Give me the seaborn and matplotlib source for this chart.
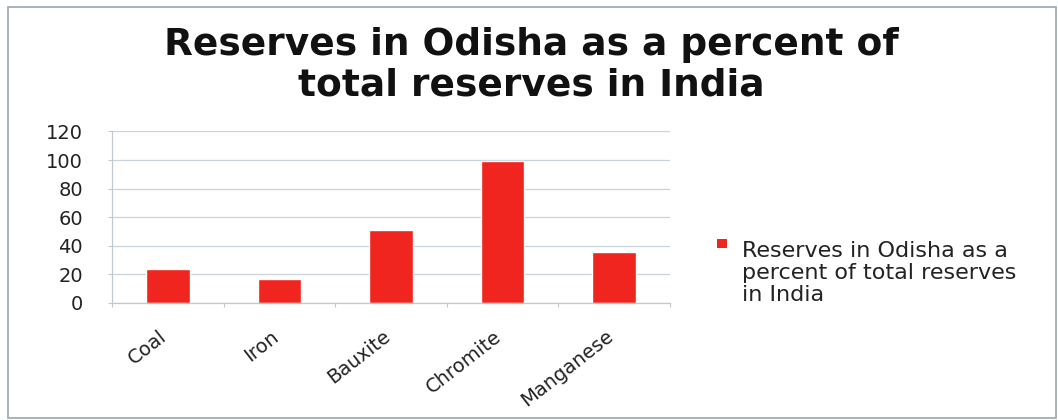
import matplotlib
matplotlib.use("Agg")
import matplotlib.pyplot as plt
import matplotlib.transforms as mtransforms
import seaborn as sns
import pandas as pd
from matplotlib.patches import Rectangle

categories = ["Coal", "Iron", "Bauxite", "Chromite", "Manganese"]
values = [24, 17, 51, 99, 36]
legend_lines = ["Reserves in Odisha as a", "percent of total reserves", "in India"]
title_lines = ["Reserves in Odisha as a percent of", "total reserves in India"]
y_ticks = [0, 20, 40, 60, 80, 100, 120]

df = pd.DataFrame({"Mineral": categories, "Percent": values})

sns.set_theme(style="white")
plt.rcParams["font.family"] = ["DejaVu Sans"]

W, H = 1058, 420
fig = plt.figure(figsize=(W / 100, H / 100), dpi=100)
fig.patch.set_facecolor("white")

def fx(px):
    return px / W

def fy(py):
    return 1 - py / H

# axes placement (pixels)
left, right, top, bottom = 112, 670, 131.4, 303
ax = fig.add_axes([fx(left), fy(bottom), (right - left) / W, (bottom - top) / H])

bar_color = "#f0251f"
sns.barplot(data=df, x="Mineral", y="Percent", color=bar_color, width=0.39,
            saturation=1, ax=ax)

ax.set_ylim(0, 120)
ax.set_xlim(-0.5, len(categories) - 0.5)
ax.set_yticks(y_ticks)
ax.set_yticklabels([str(t) for t in y_ticks], fontsize=14, color="#222222")
ax.yaxis.grid(True, color="#c9d3dc", linewidth=0.9)
ax.set_axisbelow(True)
ax.set_xlabel("")
ax.set_ylabel("")

ax.set_xticks(range(len(categories)))
ax.set_xticklabels(categories, rotation=38, ha="right", va="top",
                   rotation_mode="anchor", fontsize=14, color="#222222")
ax.set_xticks([i + 0.5 for i in range(-1, len(categories))], minor=True)

for s in ["top", "right"]:
    ax.spines[s].set_visible(False)
for s in ["left", "bottom"]:
    ax.spines[s].set_color("#c0c8d0")
    ax.spines[s].set_linewidth(0.9)

ax.tick_params(axis="x", which="major", length=0, pad=17)
ax.tick_params(axis="x", which="minor", length=3, width=0.8, color="#c0c8d0", bottom=True)
ax.tick_params(axis="y", which="major", length=3, width=0.8, color="#c0c8d0",
               pad=18, direction="out", left=True)

# nudge category labels like the reference
offset = mtransforms.ScaledTranslation(-9 / 100, 0, fig.dpi_scale_trans)
for lbl in ax.get_xticklabels():
    lbl.set_transform(lbl.get_transform() + offset)

# legend (manual, handle aligned with first line like the reference)
fig.patches.append(Rectangle((fx(717), fy(248)), 10 / W, 9 / H,
                             transform=fig.transFigure, facecolor=bar_color,
                             edgecolor="none"))
for i, line in enumerate(legend_lines):
    fig.text(fx(742), fy(257 + 22 * i), line, ha="left", va="baseline",
             fontsize=16, color="#222222")

# title
for line, b in zip(title_lines, [55, 96]):
    fig.text(fx(531), fy(b), line, ha="center", va="baseline",
             fontsize=27, fontweight="bold", color="#111111")

# chart border
fig.patches.append(Rectangle((fx(8), fy(418)), (1056 - 8) / W, (418 - 7) / H,
                             transform=fig.transFigure, fill=False,
                             edgecolor="#9aa6b0", linewidth=1.2))

fig.savefig("out.png", dpi=100, facecolor="white")
